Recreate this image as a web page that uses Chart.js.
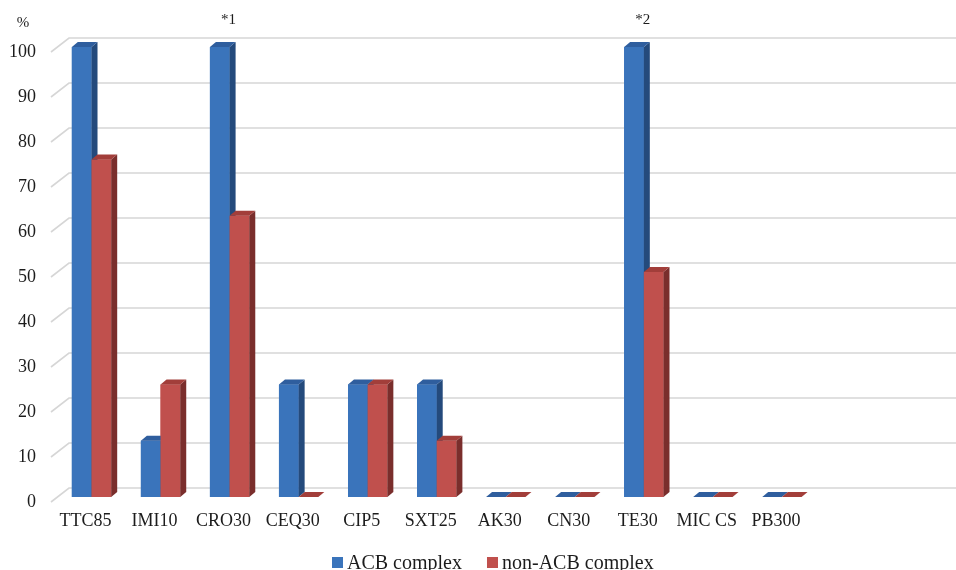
<!DOCTYPE html>
<html>
<head>
<meta charset="utf-8">
<script src="https://cdn.jsdelivr.net/npm/chart.js@4.4.1/dist/chart.umd.min.js"></script>
<style>
  html, body { margin: 0; padding: 0; background: #ffffff; overflow: hidden; }
  #wrap { position: relative; width: 956px; height: 570px; }
  canvas { display: block; }
</style>
</head>
<body>
<div id="wrap"><canvas id="chart" width="956" height="570"></canvas></div>
<script>
// Resistance rates (%) per antibiotic disc
const categories = ['TTC85', 'IMI10', 'CRO30', 'CEQ30', 'CIP5', 'SXT25', 'AK30', 'CN30', 'TE30', 'MIC CS', 'PB300', '', ''];
const acbComplex = [100, 12.5, 100, 25, 25, 25, 0, 0, 100, 0, 0, null, null];
const nonAcbComplex = [75, 25, 62.5, 0, 25, 12.5, 0, 0, 50, 0, 0, null, null];
const seriesNames = ['ACB complex', 'non-ACB complex'];
const yTicks = [0, 10, 20, 30, 40, 50, 60, 70, 80, 90, 100];
const unitLabel = '%';
const noteCategories = ['CRO30', 'TE30'];
const noteTexts = ['*1', '*2'];

const FONT = '"Liberation Serif", "Times New Roman", serif';
const TEXT = '#1c1c1c';

// pseudo-3D geometry (pixels)
const DEPTH_X = 6, DEPTH_Y = -5;     // bar thickness
const WALL_X = 12, WALL_Y = -9;      // back wall relative to bar fronts
const EDGE_X = -6, EDGE_Y = 5;       // front edge of the floor

const palette = [
  { front: '#3A74BB', side: '#244A7C', top: '#2F5E9E' },
  { front: '#C0504D', side: '#7A2E2C', top: '#A23E3A' }
];

const wallPlugin = {
  id: 'wall',
  beforeDatasetsDraw(chart) {
    const { ctx, chartArea, scales: { y } } = chart;
    ctx.save();
    ctx.strokeStyle = '#D6D6D6';
    ctx.lineWidth = 1.6;
    yTicks.forEach(v => {
      const py = y.getPixelForValue(v);
      ctx.beginPath();
      ctx.moveTo(chartArea.left + EDGE_X, py + EDGE_Y);
      ctx.lineTo(chartArea.left + WALL_X, py + WALL_Y);
      ctx.lineTo(chart.width, py + WALL_Y);
      ctx.stroke();
    });
    ctx.restore();
  }
};

// Bars are painted category by category, series in order, so that
// each bar's side face is hidden behind the next bar's front face.
const barDepthPlugin = {
  id: 'barDepth',
  afterDatasetsDraw(chart) {
    const { ctx } = chart;
    const metas = chart.data.datasets.map((_, k) => chart.getDatasetMeta(k));
    ctx.save();
    categories.forEach((_, i) => {
      metas.forEach((meta, k) => {
        const v = chart.data.datasets[k].data[i];
        if (v === null || v === undefined) return;
        const col = palette[k];
        const p = meta.data[i].getProps(['x', 'y', 'base', 'width'], true);
        const l = p.x - p.width / 2, r = p.x + p.width / 2;
        const t = Math.min(p.y, p.base), b = Math.max(p.y, p.base);
        if (b - t > 0.5) {
          ctx.fillStyle = col.front;
          ctx.fillRect(l, t, r - l, b - t);
          ctx.fillStyle = col.side;
          ctx.beginPath();
          ctx.moveTo(r, t);
          ctx.lineTo(r + DEPTH_X, t + DEPTH_Y);
          ctx.lineTo(r + DEPTH_X, b + DEPTH_Y);
          ctx.lineTo(r, b);
          ctx.closePath();
          ctx.fill();
        }
        ctx.fillStyle = col.top;
        ctx.beginPath();
        ctx.moveTo(l, t);
        ctx.lineTo(l + DEPTH_X, t + DEPTH_Y);
        ctx.lineTo(r + DEPTH_X, t + DEPTH_Y);
        ctx.lineTo(r, t);
        ctx.closePath();
        ctx.fill();
      });
    });
    ctx.restore();
  }
};

const textPlugin = {
  id: 'texts',
  afterDraw(chart) {
    const { ctx, scales: { x, y } } = chart;
    ctx.save();
    ctx.fillStyle = TEXT;
    ctx.textAlign = 'center';
    ctx.textBaseline = 'middle';
    ctx.font = '15px ' + FONT;
    ctx.fillText(unitLabel, 23, y.getPixelForValue(100) - 24);
    noteCategories.forEach((cat, k) => {
      const px = x.getPixelForValue(categories.indexOf(cat));
      ctx.fillText(noteTexts[k], px - 1, y.getPixelForValue(100) - 27);
    });

    // legend
    ctx.font = '20px ' + FONT;
    ctx.textAlign = 'left';
    ctx.textBaseline = 'alphabetic';
    let lx = 332;
    const box = 11, gap = 4, itemGap = 25, baseY = 569;
    chart.data.datasets.forEach(ds => {
      ctx.fillStyle = ds.backgroundColor;
      ctx.fillRect(lx, 557, box, box);
      ctx.fillStyle = TEXT;
      ctx.fillText(ds.label, lx + box + gap, baseY);
      lx += box + gap + ctx.measureText(ds.label).width + itemGap;
    });
    ctx.restore();
  }
};

new Chart(document.getElementById('chart'), {
  type: 'bar',
  data: {
    labels: categories,
    datasets: [
      { label: seriesNames[0], data: acbComplex, backgroundColor: palette[0].front },
      { label: seriesNames[1], data: nonAcbComplex, backgroundColor: palette[1].front }
    ]
  },
  options: {
    responsive: false,
    devicePixelRatio: 1,
    animation: false,
    layout: { padding: { top: 47, right: 1.5, left: 0, bottom: 0 } },
    datasets: { bar: { categoryPercentage: 0.57, barPercentage: 1, borderWidth: 0 } },
    plugins: { legend: { display: false }, tooltip: { enabled: false } },
    scales: {
      x: {
        type: 'category',
        grid: { display: false, drawTicks: false },
        border: { display: false },
        ticks: {
          font: { family: FONT, size: 18 },
          color: TEXT,
          autoSkip: false,
          maxRotation: 0,
          labelOffset: -6,
          padding: 13
        },
        afterFit(scale) { scale.height = 73; }
      },
      y: {
        min: 0,
        max: 100,
        grid: { display: false, drawTicks: false },
        border: { display: false },
        afterBuildTicks(scale) { scale.ticks = yTicks.map(v => ({ value: v })); },
        ticks: {
          font: { family: FONT, size: 18 },
          color: TEXT,
          padding: 21,
          labelOffset: 5
        },
        afterFit(scale) { scale.width = 57; }
      }
    }
  },
  plugins: [wallPlugin, barDepthPlugin, textPlugin]
});
</script>
</body>
</html>
